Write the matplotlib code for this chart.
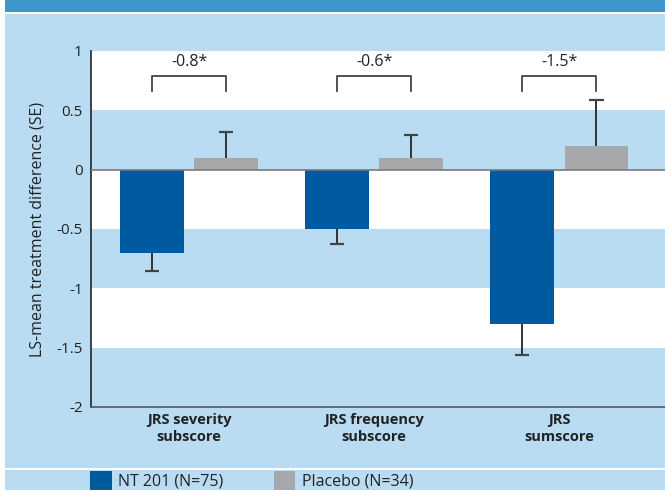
import matplotlib
matplotlib.use("Agg")
import matplotlib.pyplot as plt
from matplotlib.patches import Rectangle
import numpy as np

plt.rcParams['font.family'] = ['Open Sans', 'DejaVu Sans']

categories = ["JRS severity\nsubscore", "JRS frequency\nsubscore", "JRS\nsumscore"]
nt201 = [-0.7, -0.5, -1.3]
nt201_se = [0.15, 0.13, 0.26]
placebo = [0.1, 0.1, 0.2]
placebo_se = [0.22, 0.19, 0.39]
differences = ["-0.8*", "-0.6*", "-1.5*"]
yticks = [1, 0.5, 0, -0.5, -1, -1.5, -2]
ytick_labels = ["1", "0.5", "0", "-0.5", "-1", "-1.5", "-2"]
series_names = ["NT 201 (N=75)", "Placebo (N=34)"]

BLUE = "#005a9f"
GREY = "#a7a8ab"
LIGHT = "#b9dcf3"
HEADER = "#3b96cc"
INK = "#222222"
W, H = 665, 492

fig = plt.figure(figsize=(W / 100, H / 100), dpi=100)
fig.patch.set_facecolor("white")

def fig_rect(x0, y0, x1, y1, color, z=-10):
    # pixel coordinates measured from the top-left corner
    fig.patches.append(Rectangle((x0 / W, 1 - y1 / H), (x1 - x0) / W, (y1 - y0) / H,
                                 transform=fig.transFigure, facecolor=color,
                                 edgecolor="none", zorder=z))

fig_rect(5, 0, W, 11.5, HEADER)
fig_rect(5, 13.5, W, 467.5, LIGHT)
fig_rect(5, 469.5, W, 490, LIGHT)

ax = fig.add_axes([91 / W, 1 - 407 / H, 1 - 91 / W, (407 - 51) / H])
ax.set_zorder(1)
ax.set_facecolor("white")
ax.set_xlim(-0.53, 2.57)
ax.set_ylim(-2, 1)

# alternating horizontal bands
for lo in [0.0, -1.0, -2.0]:
    ax.axhspan(lo, lo + 0.5, color=LIGHT, lw=0, zorder=0)

x = np.arange(len(categories))
off = 0.2
bw = 0.345
ax.bar(x - off, nt201, width=bw, color=BLUE, zorder=2)
ax.bar(x + off, placebo, width=bw, color=GREY, zorder=2)

# one-sided error bars: downward for NT 201, upward for placebo
cap = 0.038
nt_end = np.array(nt201) - np.array(nt201_se)
pl_end = np.array(placebo) + np.array(placebo_se)
ax.vlines(x - off, nt201, nt_end, color="#333333", lw=1.4, zorder=3)
ax.hlines(nt_end, x - off - cap, x - off + cap, color="#444444", lw=1.6, zorder=3)
ax.vlines(x + off, placebo, pl_end, color="#333333", lw=1.4, zorder=3)
ax.hlines(pl_end, x + off - cap, x + off + cap, color="#444444", lw=1.6, zorder=3)

ax.axhline(0, color="#7a7a7a", lw=1.2, zorder=4)

# significance brackets
for i, lab in enumerate(differences):
    ax.plot([i - off, i - off, i + off, i + off], [0.66, 0.79, 0.79, 0.66],
            color="#444444", lw=1.3, zorder=3)
    ax.text(i, 0.91, lab, ha="center", va="center", fontsize=11.5, color=INK)

ax.set_yticks(yticks)
ax.set_yticklabels(ytick_labels, fontsize=11, color=INK)
ax.set_xticks(x)
ax.set_xticklabels(categories, fontsize=10.5, fontweight="bold", color=INK,
                   linespacing=1.3)
ax.tick_params(axis="both", length=0)
ax.tick_params(axis="y", pad=6)
ax.tick_params(axis="x", pad=4)

for s in ["top", "right"]:
    ax.spines[s].set_visible(False)
ax.spines["left"].set_color(INK)
ax.spines["left"].set_linewidth(1.2)
ax.spines["bottom"].set_color("#555555")
ax.spines["bottom"].set_linewidth(1.2)

ax.set_ylabel("LS-mean treatment difference (SE)", fontsize=11.5, color=INK,
              labelpad=8)

# legend row
fig_rect(90, 471, 112, 490, BLUE, z=-5)
fig_rect(274, 471, 295, 490, GREY, z=-5)
fig.text(118 / W, 1 - 481 / H, series_names[0], ha="left", va="center",
         fontsize=11.5, color=INK)
fig.text(302 / W, 1 - 481 / H, series_names[1], ha="left", va="center",
         fontsize=11.5, color=INK)

fig.savefig("out.png", dpi=100, facecolor=fig.get_facecolor())
